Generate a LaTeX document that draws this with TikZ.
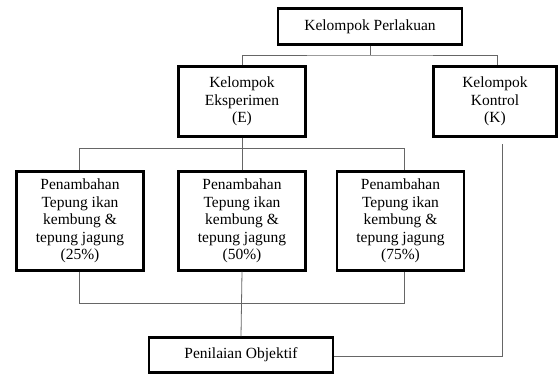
\documentclass[tikz,border=0pt]{standalone}
\usepackage{fontspec}
\setmainfont{Liberation Serif}
\begin{document}
\begin{tikzpicture}[x=1pt,y=-1pt,
  box/.style={draw=black, line width=2.2pt, fill=white, align=center, inner sep=0pt,
              font=\fontsize{15.5}{17.5}\selectfont},
  conn/.style={draw=black!60, line width=0.8pt}]
\useasboundingbox (0,0) rectangle (558,376);
% boxes
\node[box, minimum width=184pt, minimum height=36pt] (top) at (370,26.5) {Kelompok Perlakuan};
\node[box, minimum width=127pt, minimum height=70pt] (E) at (242,101.5) {Kelompok\\Eksperimen\\(E)};
\node[box, minimum width=123pt, minimum height=70pt] (K) at (495,101.5) {Kelompok\\Kontrol\\(K)};
\node[box, minimum width=127pt, minimum height=99pt] (B1) at (80,221) {Penambahan\\Tepung ikan\\kembung \&\\tepung jagung\\(25\%)};
\node[box, minimum width=127pt, minimum height=99pt] (B2) at (242,221) {Penambahan\\Tepung ikan\\kembung \&\\tepung jagung\\(50\%)};
\node[box, minimum width=127pt, minimum height=99pt] (B3) at (400.5,221) {Penambahan\\Tepung ikan\\kembung \&\\tepung jagung\\(75\%)};
\node[box, minimum width=184pt, minimum height=35pt] (P) at (241,355) {Penilaian Objektif};
% helper coordinates
\coordinate (j0) at (370,55);
\coordinate (kt) at (497,55);
\coordinate (tl) at (79.5,148);
\coordinate (tr) at (404,148);
\coordinate (bl) at (79.5,303);
\coordinate (br) at (404,303);
\coordinate (kc) at (502,356.5);
% connectors
\draw[conn] (top.south) -- (j0);
\draw[conn] (E.north) |- (j0) -- (kt) -- (K.north -| kt);
\draw[conn] (E.south) -- (E.south |- tl);
\draw[conn] (B1.north -| tl) -- (tl) -- (tr) -- (B3.north -| tr);
\draw[conn] (B2.north) -- (B2.north |- tl);
\draw[conn] (B1.south -| bl) -- (bl) -- (br) -- (B3.south -| br);
\draw[conn] (B2.south) -- (P.north);
\draw[conn, shorten >=6pt] (P.east |- kc) -- (kc) -- (K.south -| kc);
\end{tikzpicture}
\end{document}
